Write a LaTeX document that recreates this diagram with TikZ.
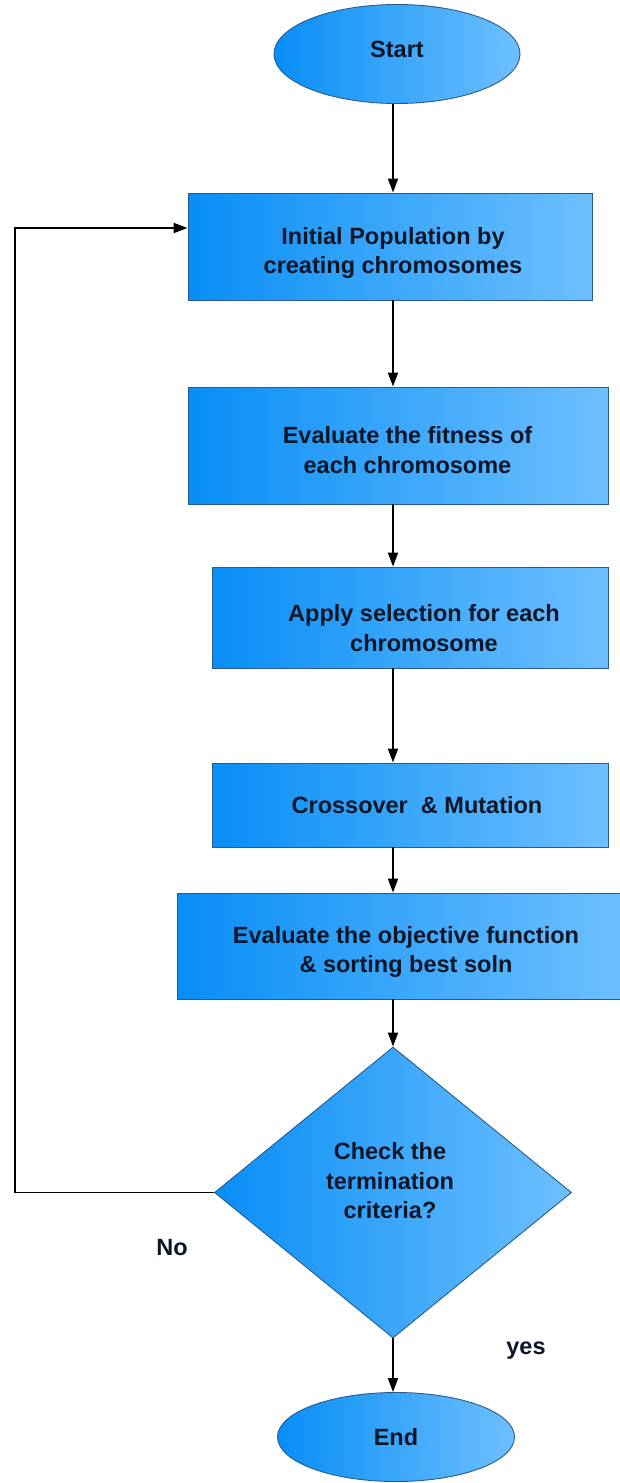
\documentclass[tikz,border=0pt]{standalone}
\usepackage{fontspec}
\setmainfont{Liberation Sans}
\usetikzlibrary{shapes.geometric,arrows.meta}
\definecolor{fillL}{RGB}{8,142,246}
\definecolor{fillR}{RGB}{110,192,255}
\definecolor{edgec}{RGB}{40,90,140}
\definecolor{txt}{RGB}{12,22,38}
\tikzset{
  shade box/.style={draw=edgec, line width=0.9pt, left color=fillL, right color=fillR},
  procbox/.style={shade box, rectangle, inner sep=0pt},
  termin/.style={shade box, ellipse, inner sep=0pt},
  decis/.style={shade box, diamond, inner sep=0pt},
  lbl/.style={text=txt, font=\bfseries\fontsize{23.5}{29.5}\selectfont, align=center, inner sep=0pt},
  arr/.style={line width=1.9pt, -{Triangle[length=14pt,width=10pt]}},
  wire/.style={line width=1.9pt}
}
\begin{document}
\begin{tikzpicture}[x=1pt,y=-1pt]
\useasboundingbox (0,0) rectangle (620,1483);
\coordinate (axis) at (393,0);
% terminals
\node[termin, minimum width=246pt, minimum height=99pt] (s) at (397,54) {};
\node[lbl] (ts) at (397,49) {Start};
\node[termin, minimum width=237pt, minimum height=89pt] (e) at (396,1437) {};
\node[lbl] (te) at (396,1437) {End};
% process boxes
\node[procbox, minimum width=404pt, minimum height=107pt] (b1) at (390,246.5) {};
\node[lbl] (t1) at (393,253) {Initial Population by\\creating chromosomes};
\node[procbox, minimum width=420pt, minimum height=117pt] (b2) at (398,445.5) {};
\node[lbl] (t2) at (407.5,450) {Evaluate the fitness of\\each chromosome};
\node[procbox, minimum width=396pt, minimum height=101pt] (b3) at (410,617.5) {};
\node[lbl] (t3) at (424,628) {Apply selection for each\\chromosome};
\node[procbox, minimum width=396pt, minimum height=84pt] (b4) at (410,805) {};
\node[lbl] (t4) at (417,805) {Crossover\ \ \& Mutation};
\node[procbox, minimum width=446pt, minimum height=106pt] (b5) at (400,946) {};
\node[lbl] (t5) at (406,952) {Evaluate the objective function\\\& sorting best soln};
% decision
\node[decis, minimum width=357pt, minimum height=291pt] (d) at (393,1192.5) {};
\node[lbl] (td) at (390,1181) {Check the\\termination\\criteria?};
% labels
\node[lbl] (no) at (172,1248) {No};
\node[lbl] (yes) at (526,1351) {yes};
% connectors
\draw[arr] (s.south -| axis) -- (b1.north -| axis);
\draw[arr] (b1.south -| axis) -- (b2.north -| axis);
\draw[arr] (b2.south -| axis) -- (b3.north -| axis);
\draw[arr] (b3.south -| axis) -- (b4.north -| axis);
\draw[arr] (b4.south -| axis) -- (b5.north -| axis);
\draw[arr] (b5.south -| axis) -- (d.north);
\draw[arr] (d.south) -- (e.north -| d.south);
\coordinate (fb) at (15,228);
\draw[arr] (d.west) -| (fb) -- (fb -| b1.west);
\end{tikzpicture}
\end{document}
